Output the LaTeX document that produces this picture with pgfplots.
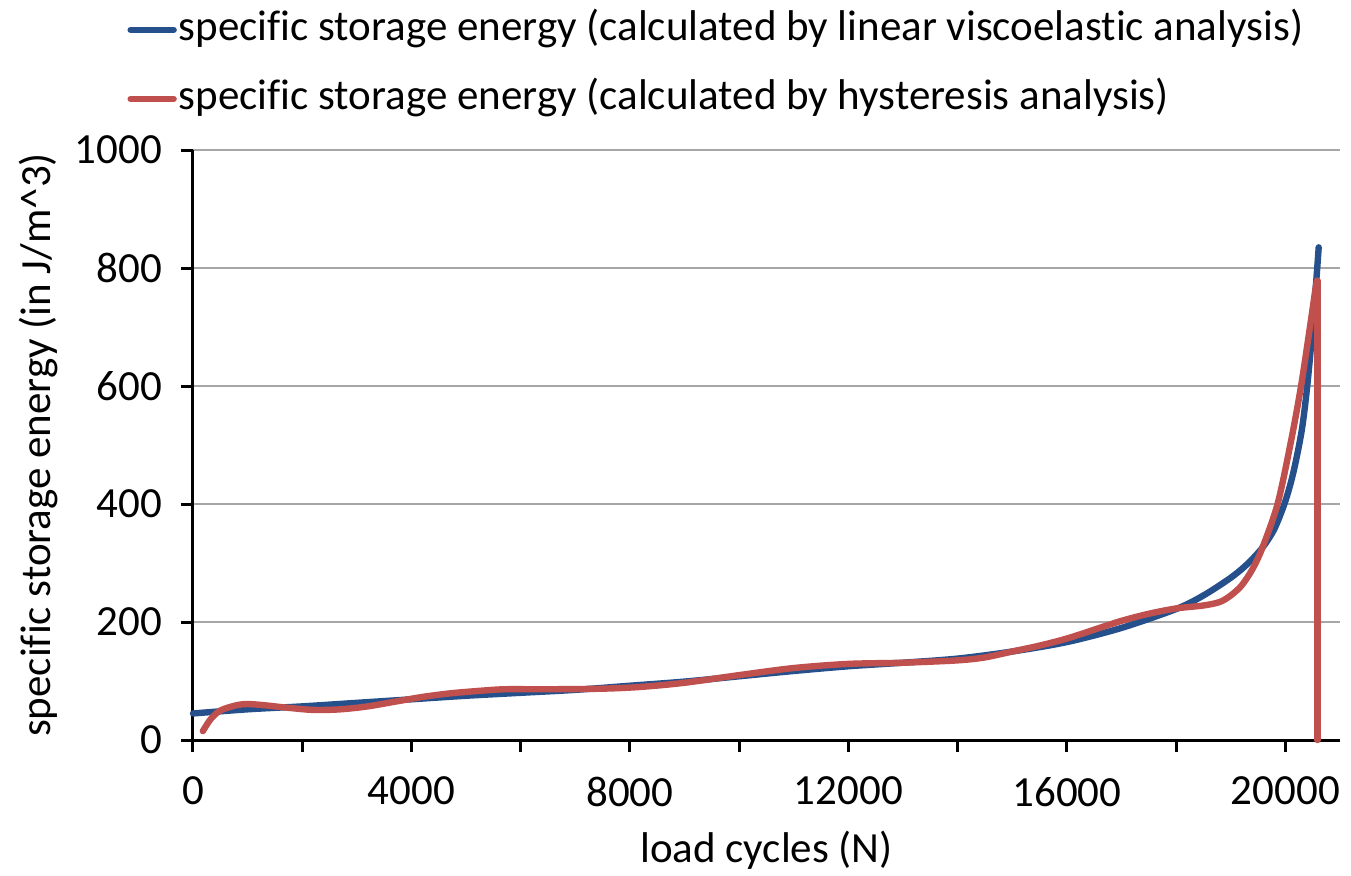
\documentclass[border=0pt]{standalone}
\usepackage{fontspec}
\setmainfont{Carlito}[Ligatures=NoCommon]
\usepackage{pgfplots}
\pgfplotsset{compat=1.18}

\definecolor{viscoblue}{RGB}{37,80,140}
\definecolor{hystred}{RGB}{192,80,77}

\begin{document}
\begin{tikzpicture}
\useasboundingbox (-96.5pt,-67.5pt) rectangle (579pt,370pt);
\begin{axis}[
  at={(0,0)}, anchor=south west,
  scale only axis,
  width=573.5pt, height=295pt,
  font=\fontsize{21.5pt}{26pt}\selectfont,
  xmin=0, xmax=21000,
  ymin=0, ymax=1000,
  xtick={0,4000,8000,12000,16000,20000},
  minor x tick num=1,
  ytick={0,200,400,600,800,1000},
  scaled ticks=false,
  /pgf/number format/1000 sep={},
  /pgf/number format/assume math mode=true,
  axis lines=left,
  axis line style={-, line width=1.5pt, black},
  tick style={line width=1.5pt, black},
  tick align=outside,
  major tick length=6pt,
  minor tick length=6pt,
  ymajorgrids,
  major grid style={line width=0.8pt, gray!70},
  xticklabel style={yshift=-9pt},
  yticklabel style={xshift=-6pt},
  clip=false,
  xlabel={load cycles (N)},
  ylabel={specific storage energy (in J/m\textasciicircum 3)},
  xlabel style={at={(axis description cs:0.5,-0.187)}, anchor=center},
  ylabel style={at={(axis description cs:-0.1351,0.5)}, anchor=center},
  legend style={
    at={(axis description cs:-0.0575,1.2407)}, anchor=north west,
    draw=none, fill=none, inner sep=0pt,
    row sep=13pt, column sep=1pt,
    nodes={inner sep=0pt, text height=16pt, text depth=5.5pt},
  },
  legend cell align=left,
  legend image code/.code={\draw[#1, line cap=round] (0pt,0pt) -- (21.5pt,0pt);},
]
% linear viscoelastic analysis
\addplot[viscoblue, line width=3.2pt, smooth, line cap=round] coordinates {
  (0,45) (1000,52) (2000,57) (3000,63) (4000,69) (5000,75) (6000,80)
  (7000,85) (8000,92) (9000,99) (10000,108) (11000,117) (12000,125)
  (13000,131) (14000,138) (15000,150) (16000,166) (17000,190)
  (18000,222) (18500,245) (19000,275) (19300,298) (19580,326)
  (19800,358) (20000,405) (20150,455) (20300,525) (20400,600)
  (20500,700) (20575,790) (20610,835)
};
\addlegendentry{specific storage energy (calculated by linear viscoelastic analysis)}
% hysteresis analysis
\addplot[hystred, line width=3.2pt, smooth, line cap=round] coordinates {
  (180,15) (320,35) (500,50) (800,59) (1000,61) (1300,59) (1700,55)
  (2200,51) (2700,52) (3200,57) (3700,65) (4200,73) (4700,79) (5200,83)
  (5700,86) (6500,86) (7500,87) (8200,90) (9000,97) (10000,110)
  (11000,122) (12000,129) (13000,131) (14000,135) (14500,140)
  (15000,150) (15500,160) (16000,172) (16500,187) (17000,202)
  (17500,214) (18000,223) (18500,228) (18800,234) (19000,245)
  (19200,262) (19400,290) (19580,326) (19857,400) (20100,505)
  (20287,600) (20450,700) (20560,770) (20590,778)
};
\addlegendentry{specific storage energy (calculated by hysteresis analysis)}
\addplot[hystred, line width=3.2pt, line cap=round, forget plot] coordinates {
  (20590,778) (20590,0)
};
\end{axis}
\end{tikzpicture}
\end{document}
